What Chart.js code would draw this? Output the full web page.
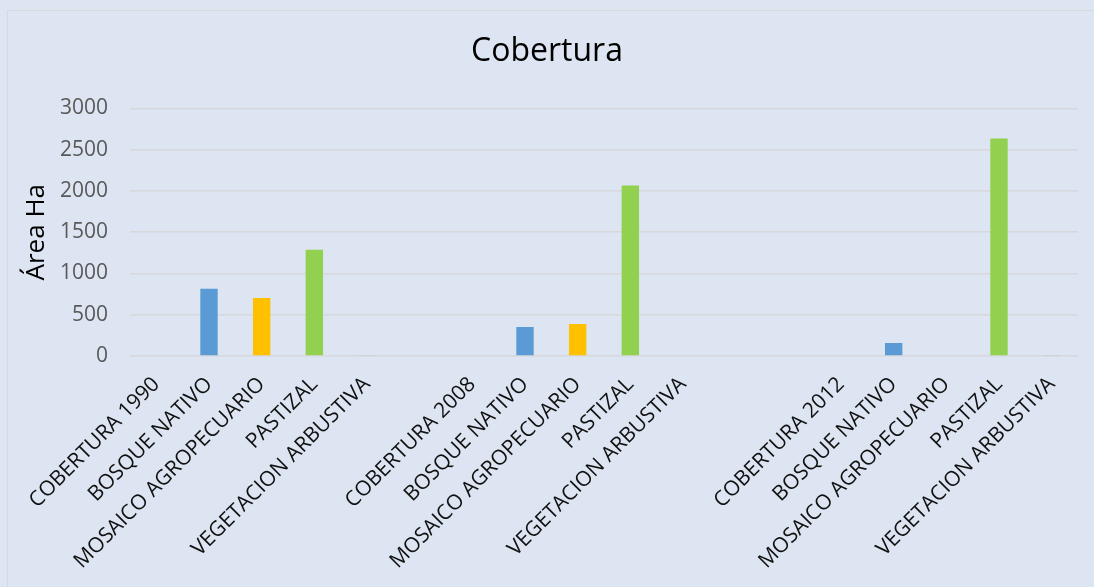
<!DOCTYPE html>
<html>
<head>
<meta charset="utf-8">
<script src="https://cdn.jsdelivr.net/npm/chart.js@4/dist/chart.umd.min.js"></script>
<style>
  html, body { margin: 0; padding: 0; background: #DCE5F1; overflow: hidden; }
  #wrap { position: relative; width: 1094px; height: 587px; }
  #frame { position: absolute; left: 7px; top: 10px; right: -10px; bottom: -10px; border: 1.5px solid #D6D8DC; }
  canvas { position: absolute; left: 0; top: 0; }
</style>
</head>
<body>
<div id="wrap">
  <div id="frame"></div>
  <canvas id="chart"></canvas>
</div>
<script>
// categories (blank entries are the empty gaps between years)
const categories = [
  "COBERTURA 1990", "BOSQUE NATIVO", "MOSAICO AGROPECUARIO", "PASTIZAL", "VEGETACION ARBUSTIVA",
  "",
  "COBERTURA 2008", "BOSQUE NATIVO", "MOSAICO AGROPECUARIO", "PASTIZAL", "VEGETACION ARBUSTIVA",
  "", "",
  "COBERTURA 2012", "BOSQUE NATIVO", "MOSAICO AGROPECUARIO", "PASTIZAL", "VEGETACION ARBUSTIVA",
];
// area in hectares
const areaHa = [
  0, 814, 704, 1287, 12,
  null,
  0, 352, 389, 2065, 0,
  null, null,
  0, 158, 0, 2636, 5,
];
const yTicks = [0, 500, 1000, 1500, 2000, 2500, 3000];

const COLOR = {
  "BOSQUE NATIVO": "#5B9BD5",
  "MOSAICO AGROPECUARIO": "#FFC000",
  "PASTIZAL": "#92D050",
  "VEGETACION ARBUSTIVA": "#A9BFD6",
};
const FONT = "'Open Sans', 'DejaVu Sans', sans-serif";

new Chart(document.getElementById("chart"), {
  type: "bar",
  data: {
    labels: categories,
    datasets: [{
      label: "Área Ha",
      data: areaHa,
      backgroundColor: categories.map((c) => COLOR[c] || "#A5A5A5"),
      borderWidth: 0,
      categoryPercentage: 0.33,
      barPercentage: 1,
    }],
  },
  options: {
    responsive: true,
    maintainAspectRatio: false,
    animation: false,
    layout: { padding: { left: 16, right: 16, top: 0, bottom: 0 } },
    plugins: {
      legend: { display: false },
      tooltip: { enabled: false },
      title: {
        display: true,
        text: "Cobertura",
        color: "#000",
        font: { family: FONT, size: 32, weight: "normal" },
        padding: { top: 33, bottom: 37 },
      },
    },
    scales: {
      x: {
        grid: { display: false },
        border: { display: false },
        ticks: {
          autoSkip: false,
          minRotation: 45,
          maxRotation: 45,
          padding: 8,
          color: "#111",
          font: { family: FONT, size: 21 },
        },
        afterFit: (s) => { s.height = 231; },
      },
      y: {
        min: 0,
        max: 3000,
        afterBuildTicks: (s) => { s.ticks = yTicks.map((v) => ({ value: v })); },
        grid: { color: "#D6D8DC", lineWidth: 1.5, drawTicks: false },
        border: { display: false },
        ticks: {
          padding: 22,
          color: "#595959",
          font: { family: FONT, size: 21 },
          callback: (v) => String(v),
        },
        title: {
          display: true,
          text: "Área Ha",
          color: "#000",
          font: { family: FONT, size: 26 },
          padding: { top: 5, bottom: 0 },
        },
        afterFit: (s) => { s.width = 114; },
      },
    },
  },
});
</script>
</body>
</html>
